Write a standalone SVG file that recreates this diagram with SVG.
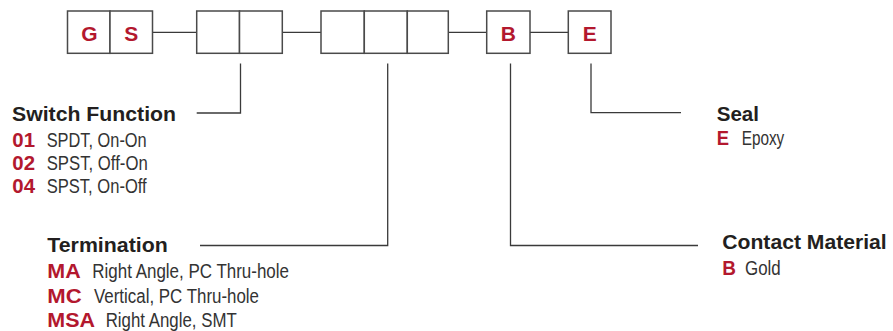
<svg xmlns="http://www.w3.org/2000/svg" width="893" height="331" viewBox="0 0 893 331">
<style>
.box{fill:#fff;stroke:#4a4a4a;stroke-width:1.5}
.ln{fill:none;stroke:#3a3a3a;stroke-width:1.3}
.bl{font-family:"Liberation Sans",Arial,sans-serif;font-weight:bold;font-size:21px;fill:#b3182e;text-anchor:middle}
.hd{font-family:"Liberation Sans",Arial,sans-serif;font-weight:bold;font-size:19.5px;fill:#231f20}
.cd{font-family:"Liberation Sans",Arial,sans-serif;font-weight:bold;font-size:19.3px;fill:#b3182e}
.tx{font-family:"Liberation Sans Narrow","Liberation Sans",Arial,sans-serif;font-size:19.5px;fill:#333}
</style>
<rect width="893" height="331" fill="#fff"/>
<g id="connectors">
<line class="ln" x1="152.5" y1="32.3" x2="196.7" y2="32.3"/>
<line class="ln" x1="282.3" y1="32.3" x2="321" y2="32.3"/>
<line class="ln" x1="448.3" y1="32.3" x2="486.7" y2="32.3"/>
<line class="ln" x1="530" y1="32.3" x2="568.3" y2="32.3"/>
<polyline class="ln" points="240.5,63.5 240.5,113 196.7,113"/>
<polyline class="ln" points="387.7,63.5 387.7,245.5 200,245.5"/>
<polyline class="ln" points="510.5,63.5 510.5,245.5 698,245.5"/>
<polyline class="ln" points="591,63.5 591,112.7 681,112.7"/>
</g>
<g id="node-gs">
<rect class="box" x="67.5" y="11" width="42.5" height="42.3"/>
<rect class="box" x="110" y="11" width="42.5" height="42.3"/>
<text class="bl" x="89.5" y="40.7">G</text>
<text class="bl" x="131.2" y="40.7">S</text>
</g>
<g id="node-switch-boxes">
<rect class="box" x="196.7" y="11" width="42.8" height="42.3"/>
<rect class="box" x="239.5" y="11" width="42.8" height="42.3"/>
</g>
<g id="node-term-boxes">
<rect class="box" x="321" y="11" width="43.3" height="42.3"/>
<rect class="box" x="364.3" y="11" width="43" height="42.3"/>
<rect class="box" x="407.3" y="11" width="41" height="42.3"/>
</g>
<g id="node-b">
<rect class="box" x="486.7" y="11" width="43.3" height="42.3"/>
<text class="bl" x="508.3" y="40.7">B</text>
</g>
<g id="node-e">
<rect class="box" x="568.3" y="11" width="42.7" height="42.3"/>
<text class="bl" x="589.7" y="40.7">E</text>
</g>
<g id="switch-function">
<text class="hd" x="12" y="121" textLength="164" lengthAdjust="spacingAndGlyphs">Switch Function</text>
<text class="cd" x="12.3" y="146.5" textLength="22.7" lengthAdjust="spacingAndGlyphs">01</text>
<text class="tx" x="46.7" y="146.5" textLength="100" lengthAdjust="spacingAndGlyphs">SPDT, On-On</text>
<text class="cd" x="12.3" y="170" textLength="22.7" lengthAdjust="spacingAndGlyphs">02</text>
<text class="tx" x="46.7" y="170" textLength="101" lengthAdjust="spacingAndGlyphs">SPST, Off-On</text>
<text class="cd" x="12.3" y="193.3" textLength="22.7" lengthAdjust="spacingAndGlyphs">04</text>
<text class="tx" x="46.7" y="193.3" textLength="100" lengthAdjust="spacingAndGlyphs">SPST, On-Off</text>
</g>
<g id="termination">
<text class="hd" x="47.3" y="252.3" textLength="120.4" lengthAdjust="spacingAndGlyphs">Termination</text>
<text class="cd" x="47.3" y="278.3" textLength="33.4" lengthAdjust="spacingAndGlyphs">MA</text>
<text class="tx" x="92.3" y="278.3" textLength="196.7" lengthAdjust="spacingAndGlyphs">Right Angle, PC Thru-hole</text>
<text class="cd" x="47.3" y="303.3" textLength="34.4" lengthAdjust="spacingAndGlyphs">MC</text>
<text class="tx" x="94" y="303.3" textLength="165" lengthAdjust="spacingAndGlyphs">Vertical, PC Thru-hole</text>
<text class="cd" x="47.3" y="327.3" textLength="47.7" lengthAdjust="spacingAndGlyphs">MSA</text>
<text class="tx" x="105.7" y="327.3" textLength="131" lengthAdjust="spacingAndGlyphs">Right Angle, SMT</text>
</g>
<g id="seal">
<text class="hd" x="716.7" y="121" textLength="42.3" lengthAdjust="spacingAndGlyphs">Seal</text>
<text class="cd" x="716.7" y="145" textLength="12.3" lengthAdjust="spacingAndGlyphs">E</text>
<text class="tx" x="741.7" y="145" textLength="42.6" lengthAdjust="spacingAndGlyphs">Epoxy</text>
</g>
<g id="contact-material">
<text class="hd" x="722.3" y="249" textLength="164.4" lengthAdjust="spacingAndGlyphs">Contact Material</text>
<text class="cd" x="722.3" y="275" textLength="13.7" lengthAdjust="spacingAndGlyphs">B</text>
<text class="tx" x="745" y="275" textLength="35.7" lengthAdjust="spacingAndGlyphs">Gold</text>
</g>
</svg>
